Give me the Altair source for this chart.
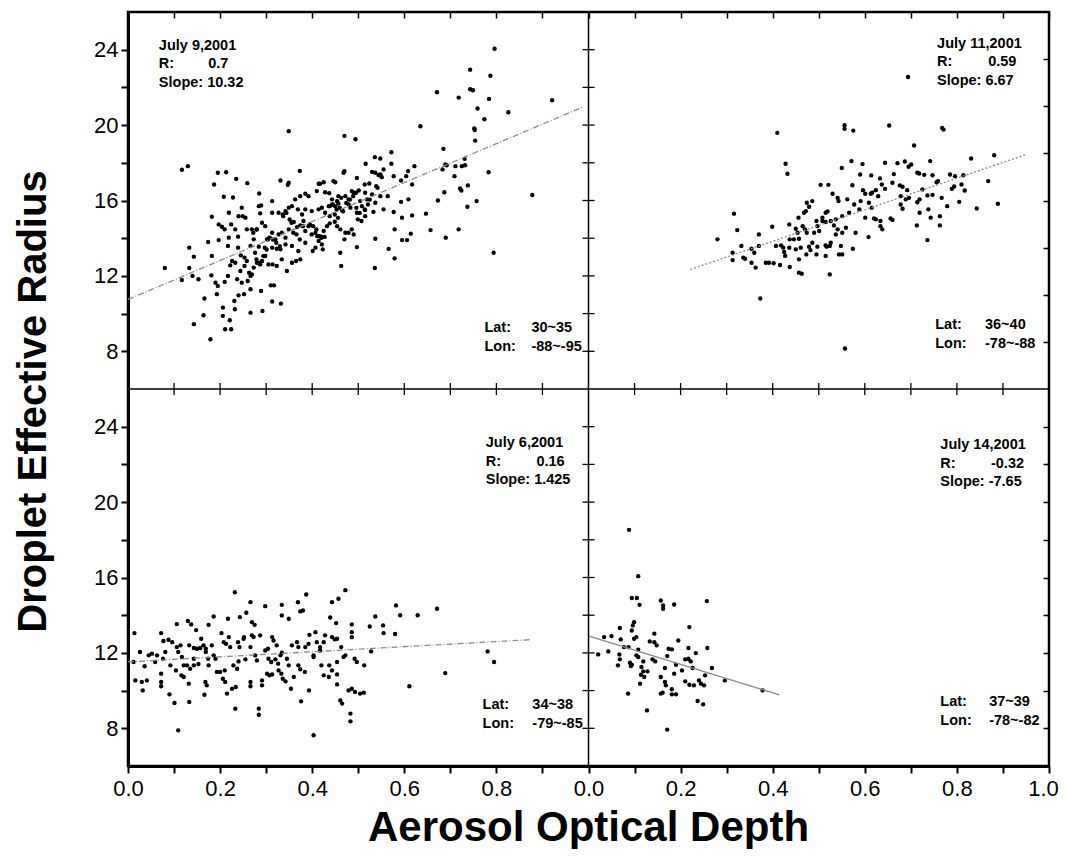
import altair as alt
import pandas as pd

# ---------------- data (panel-local units: AOD, droplet effective radius) ----------------
jul09 = [
    (0.796, 24.05), (0.743, 22.94), (0.787, 22.62), (0.743, 21.90), (0.749, 21.85), (0.671, 21.74),
    (0.718, 21.46), (0.784, 21.39), (0.921, 21.32), (0.826, 20.68), (0.759, 20.88), (0.774, 20.31),
    (0.635, 19.94), (0.752, 19.82), (0.753, 19.74), (0.754, 19.18), (0.349, 19.68), (0.470, 19.43),
    (0.494, 19.25), (0.685, 18.74), (0.572, 18.56), (0.536, 18.30), (0.548, 18.23), (0.731, 18.21),
    (0.117, 17.63), (0.130, 17.82), (0.195, 17.47), (0.213, 17.50), (0.235, 17.15), (0.259, 16.92),
    (0.187, 16.85), (0.373, 17.57), (0.331, 17.06), (0.349, 16.94), (0.347, 16.83), (0.414, 16.89),
    (0.425, 16.97), (0.446, 17.03), (0.450, 16.97), (0.470, 17.56), (0.468, 17.47), (0.497, 17.20),
    (0.516, 17.95), (0.514, 16.85), (0.524, 16.90), (0.530, 17.52), (0.537, 17.47), (0.544, 17.35),
    (0.548, 17.38), (0.539, 16.76), (0.542, 16.67), (0.551, 17.24), (0.555, 17.65), (0.572, 17.95),
    (0.577, 17.29), (0.593, 17.06), (0.604, 17.29), (0.608, 17.56), (0.622, 17.82), (0.617, 16.85),
    (0.683, 17.65), (0.689, 17.91), (0.692, 17.87), (0.711, 17.82), (0.709, 17.29), (0.725, 17.82),
    (0.732, 17.87), (0.783, 17.50), (0.721, 16.64), (0.724, 16.53), (0.738, 16.80),
    (0.208, 16.20), (0.228, 16.16), (0.285, 16.37), (0.289, 15.74), (0.313, 15.97), (0.363, 16.06),
    (0.374, 16.23), (0.385, 16.36), (0.392, 16.23), (0.410, 16.50), (0.417, 16.89), (0.428, 16.44),
    (0.437, 16.39), (0.443, 16.06), (0.454, 15.97), (0.457, 16.23), (0.463, 16.14), (0.472, 16.23),
    (0.479, 16.06), (0.486, 16.50), (0.490, 16.41), (0.495, 16.41), (0.501, 16.53), (0.504, 15.97),
    (0.515, 16.41), (0.519, 16.06), (0.530, 16.32), (0.537, 15.88), (0.548, 16.23), (0.555, 15.53),
    (0.564, 16.23), (0.577, 15.39), (0.593, 15.93), (0.595, 15.09), (0.609, 16.06), (0.617, 15.21),
    (0.647, 15.30), (0.673, 16.00), (0.687, 16.44), (0.737, 15.67), (0.757, 15.97), (0.878, 16.29),
    (0.327, 15.35), (0.336, 15.26), (0.342, 15.44), (0.349, 15.62), (0.356, 15.70), (0.369, 15.53),
    (0.378, 15.26), (0.385, 15.53), (0.399, 15.44), (0.414, 15.53), (0.421, 15.62), (0.428, 15.35),
    (0.436, 15.70), (0.443, 15.79), (0.450, 15.70), (0.457, 15.84), (0.465, 15.47), (0.479, 15.79),
    (0.483, 15.62), (0.497, 15.35), (0.508, 15.70), (0.515, 15.49), (0.533, 15.40), (0.247, 15.62),
    (0.240, 15.17), (0.255, 15.09), (0.284, 15.70), (0.287, 15.32), (0.313, 15.35), (0.182, 15.14),
    (0.219, 15.35), (0.197, 14.73),
    (0.204, 14.61), (0.210, 14.47), (0.224, 14.73), (0.233, 14.47), (0.239, 14.08), (0.249, 15.17),
    (0.258, 14.47), (0.269, 14.47), (0.273, 13.94), (0.280, 14.47), (0.291, 14.82), (0.298, 14.64),
    (0.302, 13.94), (0.307, 14.03), (0.313, 14.29), (0.320, 13.94), (0.327, 14.20), (0.334, 14.29),
    (0.342, 14.03), (0.349, 14.47), (0.355, 14.82), (0.360, 14.86), (0.367, 14.59), (0.374, 14.68),
    (0.381, 14.91), (0.385, 14.38), (0.392, 14.64), (0.399, 14.20), (0.407, 14.29), (0.411, 14.11),
    (0.420, 14.08), (0.425, 14.38), (0.432, 14.64), (0.438, 14.79), (0.449, 14.87), (0.454, 14.64),
    (0.461, 14.47), (0.472, 14.29), (0.479, 14.29), (0.486, 14.47), (0.490, 14.20), (0.499, 15.00),
    (0.507, 14.91), (0.515, 15.17), (0.497, 13.53), (0.463, 12.53), (0.461, 13.23), (0.470, 13.94),
    (0.537, 13.97), (0.566, 13.43), (0.579, 14.47), (0.579, 12.93), (0.595, 13.90), (0.606, 13.90),
    (0.614, 14.24), (0.657, 14.43), (0.690, 14.03), (0.718, 14.47), (0.794, 13.23), (0.536, 12.42),
    (0.174, 13.80), (0.197, 13.90), (0.182, 13.06), (0.219, 14.03), (0.217, 13.59), (0.239, 13.50),
    (0.245, 13.09), (0.253, 12.97), (0.266, 13.59), (0.276, 13.23), (0.284, 13.55), (0.297, 13.50),
    (0.304, 13.94), (0.313, 13.50), (0.323, 13.44), (0.331, 13.41), (0.342, 13.67), (0.356, 13.59),
    (0.370, 13.32), (0.385, 13.76), (0.401, 13.32), (0.407, 13.50), (0.414, 13.85), (0.423, 13.41),
    (0.421, 13.67), (0.143, 13.02), (0.133, 13.50),
    (0.080, 12.42), (0.117, 11.78), (0.133, 12.42), (0.140, 12.00), (0.153, 11.82), (0.181, 12.03),
    (0.190, 11.64), (0.195, 11.47), (0.210, 11.68), (0.217, 12.00), (0.222, 12.56), (0.226, 12.79),
    (0.233, 12.70), (0.244, 12.26), (0.253, 12.53), (0.258, 12.79), (0.263, 12.17), (0.266, 12.00),
    (0.269, 12.08), (0.273, 12.44), (0.280, 12.70), (0.287, 12.61), (0.291, 12.79), (0.298, 13.06),
    (0.305, 12.61), (0.314, 12.61), (0.323, 12.53), (0.334, 12.88), (0.345, 12.26), (0.356, 12.70),
    (0.365, 12.79), (0.374, 12.88), (0.237, 11.82), (0.247, 11.64), (0.260, 11.73),
    (0.166, 10.80), (0.164, 9.91), (0.143, 9.44), (0.179, 8.64), (0.193, 11.03), (0.206, 10.32),
    (0.206, 9.88), (0.221, 9.65), (0.211, 9.17), (0.224, 9.17), (0.232, 10.23), (0.231, 10.67),
    (0.240, 10.97), (0.252, 11.03), (0.266, 11.29), (0.266, 10.05), (0.292, 10.14), (0.289, 11.20),
    (0.313, 10.64), (0.332, 10.53), (0.310, 11.50), (0.317, 11.50),
    (0.395, 14.73), (0.402, 14.64), (0.409, 14.46), (0.416, 14.11), (0.420, 14.02), (0.427, 14.07),
    (0.438, 15.70), (0.445, 15.79), (0.453, 15.52), (0.460, 15.61), (0.467, 15.43), (0.474, 15.87),
    (0.482, 16.05), (0.489, 16.23), (0.496, 15.61), (0.503, 15.34), (0.514, 15.52), (0.521, 15.79),
    (0.525, 16.05), (0.438, 15.17), (0.449, 15.26), (0.456, 15.08), (0.359, 14.29), (0.366, 14.20),
    (0.373, 13.93), (0.380, 14.64), (0.337, 15.17), (0.344, 15.34), (0.351, 14.99), (0.308, 14.02),
    (0.315, 13.93), (0.322, 13.76), (0.330, 13.58), (0.301, 13.40), (0.294, 13.05), (0.286, 12.70),
    (0.279, 12.87), (0.272, 14.29), (0.279, 14.46),
]

jul11 = [
    (0.694, 22.55), (0.556, 19.99), (0.556, 19.80), (0.575, 19.71), (0.653, 19.98), (0.768, 19.85),
    (0.771, 19.76), (0.410, 19.59), (0.707, 18.92), (0.831, 18.23), (0.881, 18.40), (0.428, 17.95),
    (0.432, 17.42), (0.571, 18.09), (0.550, 17.73), (0.595, 17.93), (0.644, 18.00), (0.671, 17.98),
    (0.687, 18.07), (0.695, 17.79), (0.701, 17.91), (0.742, 18.09), (0.714, 17.47), (0.718, 17.43),
    (0.729, 17.36), (0.747, 17.34), (0.785, 17.38), (0.796, 17.29), (0.814, 17.34), (0.868, 17.03),
    (0.756, 16.97), (0.759, 17.03), (0.789, 16.62), (0.794, 16.74), (0.810, 16.85), (0.817, 16.53),
    (0.805, 15.93), (0.843, 15.58), (0.889, 15.83), (0.590, 17.38), (0.614, 17.33), (0.633, 17.17),
    (0.663, 17.40), (0.504, 16.83), (0.521, 16.83), (0.530, 16.36), (0.541, 16.14), (0.543, 15.97),
    (0.573, 16.81), (0.596, 16.55), (0.601, 16.36), (0.613, 16.36), (0.616, 16.41), (0.624, 16.55),
    (0.629, 16.23), (0.637, 16.85), (0.644, 16.62), (0.660, 16.94), (0.676, 16.80), (0.682, 16.73),
    (0.692, 16.55), (0.678, 16.23), (0.689, 16.06), (0.696, 16.14), (0.725, 16.59), (0.719, 16.06),
    (0.736, 16.27), (0.747, 16.30), (0.767, 16.14), (0.779, 15.70), (0.678, 15.79), (0.682, 15.56),
    (0.714, 15.91), (0.719, 15.35), (0.738, 15.53), (0.743, 15.09), (0.763, 15.17), (0.763, 14.68),
    (0.736, 13.90), (0.713, 14.68), (0.562, 16.06), (0.577, 15.79), (0.591, 15.97), (0.609, 15.88),
    (0.615, 15.62), (0.588, 15.53), (0.566, 15.35), (0.551, 15.17), (0.537, 15.00), (0.601, 15.09),
    (0.620, 15.05), (0.634, 14.91), (0.638, 14.47), (0.656, 15.05), (0.660, 14.97), (0.634, 14.64),
    (0.624, 15.00), (0.474, 15.88), (0.486, 15.97), (0.479, 15.67), (0.456, 15.09), (0.468, 15.35),
    (0.472, 15.44), (0.515, 15.35), (0.519, 15.42), (0.508, 15.09), (0.508, 14.91), (0.495, 14.91),
    (0.497, 14.64), (0.501, 14.38), (0.515, 14.86), (0.526, 14.91), (0.533, 14.68), (0.541, 14.47),
    (0.537, 14.20), (0.559, 14.56), (0.580, 14.29), (0.608, 14.06), (0.551, 14.29), (0.574, 13.44),
    (0.436, 14.73), (0.437, 13.94), (0.450, 14.50), (0.454, 14.29), (0.465, 14.64), (0.470, 14.47),
    (0.474, 14.29), (0.490, 14.29), (0.457, 13.97), (0.446, 13.94), (0.450, 13.41), (0.461, 13.50),
    (0.479, 13.55), (0.486, 13.76), (0.497, 13.55), (0.515, 13.62), (0.517, 13.55), (0.524, 13.59),
    (0.526, 13.76), (0.515, 13.06), (0.548, 13.59), (0.544, 13.14), (0.551, 13.14), (0.495, 13.14),
    (0.473, 13.14), (0.482, 13.37), (0.418, 13.62), (0.423, 13.50), (0.407, 13.59), (0.425, 13.27),
    (0.427, 13.06), (0.436, 13.50), (0.416, 12.58), (0.437, 12.47), (0.457, 12.88), (0.457, 12.17),
    (0.463, 12.12), (0.524, 12.08), (0.399, 14.61), (0.370, 14.20), (0.370, 13.59), (0.385, 12.70),
    (0.392, 12.70), (0.402, 12.67), (0.354, 13.44), (0.360, 13.23), (0.332, 13.59), (0.313, 13.23),
    (0.313, 12.84), (0.336, 12.97), (0.340, 12.91), (0.354, 12.70), (0.363, 12.44), (0.316, 15.30),
    (0.323, 14.43), (0.280, 13.94), (0.373, 10.80), (0.557, 8.15),
]

jul06 = [
    (0.232, 15.22), (0.387, 15.10), (0.472, 15.33), (0.443, 14.69), (0.457, 14.87), (0.334, 14.55),
    (0.369, 14.69), (0.266, 14.69), (0.298, 14.48), (0.374, 14.20), (0.380, 14.25), (0.334, 13.99),
    (0.349, 13.81), (0.257, 14.13), (0.186, 13.93), (0.217, 13.81), (0.243, 13.90), (0.175, 13.49),
    (0.106, 13.53), (0.130, 13.69), (0.137, 13.51), (0.148, 13.21), (0.269, 13.63), (0.275, 13.49),
    (0.439, 13.88), (0.452, 13.58), (0.486, 13.51), (0.525, 13.40), (0.554, 13.46), (0.555, 13.05),
    (0.537, 13.93), (0.582, 14.52), (0.591, 14.00), (0.629, 14.00), (0.671, 14.34), (0.580, 13.00),
    (0.528, 12.08), (0.781, 12.08), (0.795, 11.52), (0.689, 10.93), (0.611, 10.23), (0.014, 13.05),
    (0.026, 12.05), (0.045, 11.87), (0.052, 11.96), (0.036, 11.29), (0.016, 10.54), (0.030, 10.46),
    (0.041, 10.54), (0.032, 10.01), (0.063, 11.87), (0.059, 11.52), (0.072, 13.05), (0.077, 12.63),
    (0.088, 12.70), (0.096, 12.57), (0.081, 12.05), (0.076, 11.69), (0.072, 10.90), (0.072, 10.46),
    (0.072, 10.23), (0.092, 11.34), (0.104, 11.07), (0.090, 9.80), (0.101, 9.34), (0.109, 7.89),
    (0.106, 12.31), (0.114, 12.40), (0.109, 12.05), (0.117, 11.78), (0.121, 11.34), (0.116, 10.81),
    (0.121, 10.72), (0.132, 10.37), (0.133, 9.40), (0.128, 11.34), (0.135, 11.16), (0.143, 11.34),
    (0.153, 11.41), (0.133, 12.40), (0.143, 12.26), (0.150, 12.22), (0.157, 12.26), (0.143, 11.69),
    (0.159, 12.75), (0.164, 12.40), (0.169, 12.05), (0.169, 12.22), (0.174, 11.69), (0.175, 11.34),
    (0.168, 10.46), (0.171, 10.28), (0.166, 9.78), (0.186, 11.87), (0.190, 11.69), (0.182, 12.40),
    (0.193, 10.99), (0.200, 10.99), (0.210, 11.07), (0.208, 12.57), (0.203, 13.05), (0.213, 12.48),
    (0.219, 12.84), (0.222, 12.31), (0.206, 10.63), (0.211, 10.46), (0.215, 9.84), (0.226, 10.10),
    (0.234, 10.19), (0.233, 9.04), (0.229, 11.34), (0.237, 11.16), (0.239, 12.57), (0.242, 12.31),
    (0.251, 12.75), (0.252, 12.84), (0.255, 11.66), (0.240, 11.55), (0.266, 12.31), (0.269, 12.93),
    (0.273, 12.84), (0.266, 10.46), (0.266, 10.23), (0.284, 9.04), (0.284, 8.72), (0.276, 11.87),
    (0.280, 11.60), (0.291, 10.54), (0.291, 10.28), (0.287, 12.93), (0.298, 12.13), (0.304, 12.22),
    (0.313, 12.84), (0.316, 12.66), (0.323, 12.40), (0.305, 11.69), (0.311, 11.52), (0.302, 10.90),
    (0.307, 10.81), (0.313, 10.86), (0.320, 11.66), (0.326, 11.43), (0.331, 11.87), (0.334, 12.01),
    (0.327, 11.07), (0.333, 10.90), (0.336, 10.63), (0.342, 10.49), (0.354, 10.10), (0.345, 11.69),
    (0.349, 11.34), (0.356, 12.40), (0.367, 12.57), (0.370, 12.31), (0.360, 10.72), (0.370, 11.34),
    (0.374, 11.13), (0.376, 9.43), (0.385, 12.31), (0.392, 12.48), (0.394, 12.96), (0.403, 11.78),
    (0.403, 11.87), (0.393, 10.01), (0.384, 10.99), (0.407, 13.10), (0.410, 12.57), (0.417, 12.31),
    (0.417, 12.13), (0.420, 11.34), (0.425, 12.57), (0.428, 12.93), (0.425, 10.81), (0.436, 10.72),
    (0.443, 12.84), (0.449, 12.72), (0.454, 12.75), (0.437, 11.34), (0.443, 11.07), (0.454, 11.52),
    (0.454, 10.86), (0.454, 10.33), (0.463, 12.31), (0.468, 11.78), (0.472, 11.87), (0.461, 9.48),
    (0.465, 9.31), (0.479, 10.01), (0.486, 10.10), (0.483, 8.78), (0.483, 8.37), (0.486, 13.10),
    (0.486, 12.84), (0.492, 11.69), (0.497, 11.52), (0.493, 9.93), (0.504, 9.84), (0.512, 9.89),
    (0.513, 11.34), (0.403, 7.63), (0.012, 11.52),
]

jul14 = [
    (0.088, 18.53), (0.108, 16.07), (0.094, 14.91), (0.105, 14.91), (0.111, 14.55), (0.157, 14.78),
    (0.162, 14.52), (0.162, 14.34), (0.186, 14.57), (0.257, 14.75), (0.099, 13.63), (0.096, 13.46),
    (0.068, 13.32), (0.094, 13.19), (0.219, 13.37), (0.034, 12.84), (0.050, 12.89), (0.070, 12.72),
    (0.099, 12.75), (0.104, 12.84), (0.133, 12.61), (0.143, 12.57), (0.148, 12.40), (0.143, 13.02),
    (0.195, 12.66), (0.043, 12.08), (0.021, 11.92), (0.077, 12.31), (0.087, 12.31), (0.108, 12.17),
    (0.174, 12.22), (0.181, 12.19), (0.217, 12.26), (0.258, 12.26), (0.233, 11.99), (0.067, 11.92),
    (0.068, 11.66), (0.104, 11.87), (0.108, 11.78), (0.064, 11.34), (0.090, 11.48), (0.094, 11.37),
    (0.092, 11.30), (0.119, 11.55), (0.139, 11.66), (0.145, 11.55), (0.171, 11.83), (0.190, 11.37),
    (0.210, 11.66), (0.217, 11.69), (0.222, 11.55), (0.115, 11.25), (0.119, 11.02), (0.128, 11.02),
    (0.114, 10.84), (0.121, 10.72), (0.112, 10.37), (0.166, 11.20), (0.157, 10.72), (0.166, 10.46),
    (0.168, 10.28), (0.186, 10.90), (0.203, 11.07), (0.226, 11.20), (0.210, 10.49), (0.219, 10.31),
    (0.229, 10.28), (0.240, 10.54), (0.244, 10.37), (0.251, 10.28), (0.253, 10.81), (0.268, 11.20),
    (0.296, 10.54), (0.378, 10.01), (0.086, 9.84), (0.157, 9.84), (0.161, 9.89), (0.181, 9.80),
    (0.190, 9.80), (0.181, 10.07), (0.237, 9.45), (0.249, 9.27), (0.127, 8.95), (0.171, 7.93),
]

panel_points = [jul09, jul11, jul06, jul14]
panel_dates = ["July 9,2001", "July 11,2001", "July 6,2001", "July 14,2001"]
r_values = ["0.7", "0.59", "0.16", "-0.32"]
slope_values = ["10.32", "6.67", "1.425", "-7.65"]
lat_values = ["30~35", "36~40", "34~38", "37~39"]
lon_values = ["-88~-95", "-78~-88", "-79~-85", "-78~-82"]

# regression lines (panel-local end points)
fit_x0 = [0.0, 0.221, 0.0, 0.0]
fit_y0 = [10.75, 12.34, 11.52, 12.90]
fit_x1 = [0.99, 0.948, 0.873, 0.414]
fit_y1 = [20.98, 18.42, 12.70, 9.78]
fit_style = ["dashdot", "dot", "dashdot", "solid"]

# ---------------- layout of the 2x2 grid ----------------
panel_col = [0, 1, 0, 1]
panel_row = [1, 1, 0, 0]            # 1 = upper row
Y_LO, Y_SPAN = 6, 20                # each panel spans 6..26
X_SPAN = 1.0

# annotation anchors (panel-local data units)
stat_left_x = [0.067, 0.757, 0.777, 0.764]
stat_rval_x = [0.174, 0.868, 0.887, 0.874]
stat_top_y = [24.0, 24.1, 22.9, 22.8]
loc_left_x = [0.774, 0.753, 0.770, 0.764]
loc_val_x = [0.876, 0.861, 0.878, 0.870]
loc_top_y = [9.0, 9.16, 9.0, 9.16]

# ---------------- build tables ----------------
rows = []
for i, pts in enumerate(panel_points):
    for x, y in pts:
        rows.append({"X": x + panel_col[i] * X_SPAN, "Y": y + panel_row[i] * Y_SPAN, "panel": panel_dates[i]})
pts_df = pd.DataFrame(rows)

fit_rows = []
for i in range(4):
    for x, y in ((fit_x0[i], fit_y0[i]), (fit_x1[i], fit_y1[i])):
        fit_rows.append({"X": x + panel_col[i] * X_SPAN, "Y": y + panel_row[i] * Y_SPAN,
                         "panel": panel_dates[i], "style": fit_style[i]})
fit_df = pd.DataFrame(fit_rows)

stat_df = pd.DataFrame({
    "XL": [stat_left_x[i] + panel_col[i] for i in range(4)],
    "XR": [stat_rval_x[i] + panel_col[i] for i in range(4)],
    "Y": [stat_top_y[i] + panel_row[i] * Y_SPAN for i in range(4)],
    "left": [f"{panel_dates[i]}\nR:\nSlope: {slope_values[i]}" for i in range(4)],
    "right": [f"\n{r_values[i]}" for i in range(4)],
})
loc_df = pd.DataFrame({
    "XL": [loc_left_x[i] + panel_col[i] for i in range(4)],
    "XV": [loc_val_x[i] + panel_col[i] for i in range(4)],
    "Y": [loc_top_y[i] + panel_row[i] * Y_SPAN for i in range(4)],
    "left": ["Lat:\nLon:"] * 4,
    "vals": [f"{lat_values[i]}\n{lon_values[i]}" for i in range(4)],
})

x_ticks = [k / 10 for k in range(21)]
y_ticks = list(range(8, 25, 2)) + list(range(28, 45, 2))
right_ticks = list(range(8, 25, 2)) + [28.5, 31, 33.5, 36, 38.5, 41, 43.5]
div_x_ticks = [k / 10 for k in range(1, 10)] + [1 + k / 10 for k in range(1, 10)]

vdiv_df = pd.DataFrame({"X": [X_SPAN] * len(y_ticks), "Y": y_ticks})
hdiv_df = pd.DataFrame({"X": div_x_ticks, "Y": [Y_LO + Y_SPAN] * len(div_x_ticks)})

# ---------------- chart ----------------
FONT = "Liberation Sans"
XS = alt.Scale(domain=[0, 2 * X_SPAN], nice=False, zero=False)
YS = alt.Scale(domain=[Y_LO, Y_LO + 2 * Y_SPAN], nice=False, zero=False)

x_label_expr = ("(round(datum.value*10) % 2 == 0) ? format(round(datum.value*10) >= 10 ? "
                "(round(datum.value*10) - 10) / 10 : round(datum.value*10) / 10, '.1f') : ''")
y_label_expr = "(datum.value % 4 == 0) ? format(datum.value > 26 ? datum.value - 20 : datum.value, 'd') : ''"

points = alt.Chart(pts_df).mark_circle(size=19, color="black", opacity=1).encode(
    x=alt.X("X:Q", scale=XS, axis=alt.Axis(
        orient="bottom",
        values=x_ticks, labelExpr=x_label_expr, labelFontSize=22, labelColor="black", labelFont=FONT,
        labelPadding=5, labelOverlap=False, labelFlush=False, tickSize=7, tickWidth=2, tickColor="black",
        labelOffset=alt.condition("datum.value == 2", alt.value(-6), alt.value(0)),
        domainWidth=3, domainColor="black", grid=False,
        title="Aerosol Optical Depth", titleFontSize=42, titleFontWeight="bold", titleFont=FONT,
        titleColor="black", titleX=460, titleY=74, titleAlign="center", titleBaseline="alphabetic")),
    y=alt.Y("Y:Q", scale=YS, axis=alt.Axis(
        orient="left",
        values=y_ticks, labelExpr=y_label_expr, labelFontSize=22, labelColor="black", labelFont=FONT,
        labelPadding=3, labelOverlap=False, labelFlush=False, tickSize=7, tickWidth=2, tickColor="black",
        domainWidth=3, domainColor="black", grid=False,
        title="Droplet Effective Radius", titleFontSize=40, titleFontWeight="bold", titleFont=FONT,
        titleColor="black", titleAngle=270, titleX=-83, titleY=389, titleAlign="center",
        titleBaseline="alphabetic")),
)

frame_axes = alt.Chart(pts_df).mark_circle(opacity=0).encode(
    x=alt.X("X:Q", scale=XS, axis=alt.Axis(
        orient="top", values=x_ticks, labels=False, domain=False, tickSize=6, offset=-6,
        tickWidth=1.5, tickColor="black", grid=False, title=None)),
    y=alt.Y("Y:Q", scale=YS, axis=alt.Axis(
        orient="right", values=right_ticks, labels=False, domain=False, tickSize=6, offset=-6,
        tickWidth=1.5, tickColor="black", grid=False, title=None)),
)

fits = alt.Chart(fit_df).mark_line(color="#8a8a8a", strokeWidth=1.3).encode(
    x=alt.X("X:Q", scale=XS, axis=None),
    y=alt.Y("Y:Q", scale=YS, axis=None),
    detail="panel:N",
    strokeDash=alt.StrokeDash("style:N", legend=None, scale=alt.Scale(
        domain=["dashdot", "dot", "solid"], range=[[6, 2, 1, 2], [2, 2], [1, 0]])),
)

vdiv = alt.Chart(pd.DataFrame({"X": [X_SPAN]})).mark_rule(color="black", strokeWidth=1.5).encode(
    x=alt.X("X:Q", scale=XS, axis=None))
hdiv = alt.Chart(pd.DataFrame({"Y": [Y_LO + Y_SPAN]})).mark_rule(color="black", strokeWidth=1.5).encode(
    y=alt.Y("Y:Q", scale=YS, axis=None))

vdiv_ticks = alt.Chart(vdiv_df).mark_tick(orient="horizontal", size=12, thickness=1.3, color="black",
                                          opacity=1).encode(
    x=alt.X("X:Q", scale=XS, axis=None), y=alt.Y("Y:Q", scale=YS, axis=None))
hdiv_ticks = alt.Chart(hdiv_df).mark_tick(orient="vertical", size=12, thickness=1.3, color="black",
                                          opacity=1).encode(
    x=alt.X("X:Q", scale=XS, axis=None), y=alt.Y("Y:Q", scale=YS, axis=None))

txt = dict(font=FONT, fontSize=14.5, fontWeight="bold", color="black", baseline="alphabetic",
           lineBreak="\n", lineHeight=18.5)
stat_left = alt.Chart(stat_df).mark_text(align="left", **txt).encode(
    x=alt.X("XL:Q", scale=XS, axis=None), y=alt.Y("Y:Q", scale=YS, axis=None), text="left:N")
stat_right = alt.Chart(stat_df).mark_text(align="left", **txt).encode(
    x=alt.X("XR:Q", scale=XS, axis=None), y=alt.Y("Y:Q", scale=YS, axis=None), text="right:N")
loc_left = alt.Chart(loc_df).mark_text(align="left", **txt).encode(
    x=alt.X("XL:Q", scale=XS, axis=None), y=alt.Y("Y:Q", scale=YS, axis=None), text="left:N")
loc_vals = alt.Chart(loc_df).mark_text(align="left", **txt).encode(
    x=alt.X("XV:Q", scale=XS, axis=None), y=alt.Y("Y:Q", scale=YS, axis=None), text="vals:N")

chart = alt.layer(
    points, frame_axes, fits, vdiv, hdiv, vdiv_ticks, hdiv_ticks, stat_left, stat_right, loc_left, loc_vals
).resolve_axis(
    x="independent", y="independent"
).properties(
    width=921, height=754,
    autosize=alt.AutoSizeParams(type="none"),
    padding={"left": 120, "top": 4, "right": 11, "bottom": 83},
    background="white",
).configure(
    font=FONT
).configure_view(
    stroke="black", strokeWidth=2.5
)

chart.save("out.html", embed_options={"renderer": "svg", "actions": False})
